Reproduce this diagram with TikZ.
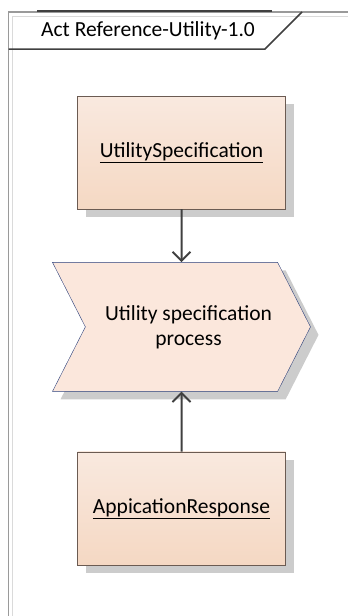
\documentclass[tikz,border=0pt]{standalone}
\usepackage{fontspec}
\setmainfont{Carlito}
\usetikzlibrary{shapes.symbols, arrows.meta, positioning, shadows}
\definecolor{boxtop}{HTML}{F9E9DF}
\definecolor{boxbottom}{HTML}{F5D8C3}
\definecolor{boxline}{HTML}{6B5B52}
\definecolor{actfill}{HTML}{FBE7DC}
\definecolor{actline}{HTML}{2B3F7A}
\definecolor{framegray}{HTML}{9A9A9A}
\definecolor{innergray}{HTML}{DADADA}
\definecolor{linkgray}{HTML}{404040}
\tikzstyle{object} = [rectangle, minimum width=208pt, minimum height=113pt, text centered, draw=boxline, top color=boxtop, bottom color=boxbottom, drop shadow={shadow xshift=8pt, shadow yshift=-8pt, fill=black!20, opacity=1}]
\tikzstyle{action} = [signal, signal from=west, signal to=east, signal pointer angle=126, minimum width=258pt, minimum height=129pt, align=center, draw=actline, fill=actfill, drop shadow={shadow xshift=8pt, shadow yshift=-8pt, fill=black!20, opacity=1}]
\tikzstyle{arrow} = [line width=2pt, draw=linkgray, -{Straight Barb[length=9pt, width=18pt]}]

\begin{document}
\begin{tikzpicture}[x=1pt, y=-1pt, font=\fontsize{21.5}{25}\selectfont]
\useasboundingbox (0,0) rectangle (348,616);

% frame
\draw[innergray, line width=1pt] (348,16) -- (12,16) -- (12,616);
\draw[framegray, line width=1.5pt] (348,12) -- (8.5,12) -- (8.5,616);
\draw[linkgray, line width=2pt] (37,11) -- (272,11);
\draw[linkgray, line width=1.5pt] (8.5,49) -- (265,49) -- (302,12);
\node[anchor=west, inner sep=0pt] (title) at (41,31) {Act Reference-Utility-1.0};

\node[object] (utilspec) at (181.5,152.5) {\underline{UtilitySpecification}};
\node[action, below=53pt of utilspec.south, anchor=north] (process) {\hspace*{14pt}Utility specification\\\hspace*{14pt}process};
\node[object, below=60pt of process.south, anchor=north] (response) {\underline{AppicationResponse}};

\draw[arrow] (utilspec) -- (process);
\draw[arrow] (response) -- (process);

\end{tikzpicture}
\end{document}
